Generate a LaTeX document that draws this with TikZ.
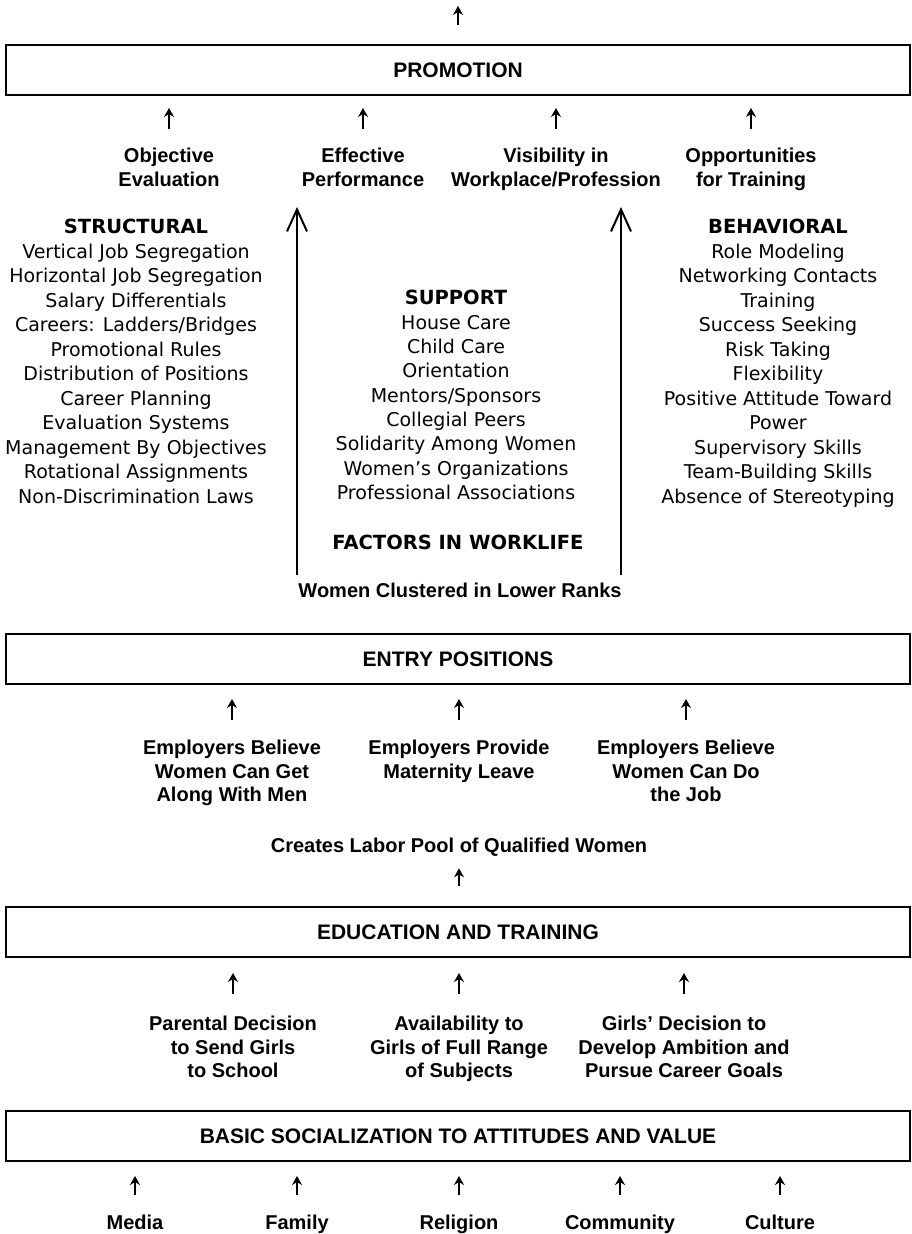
\documentclass[tikz,border=0pt]{standalone}
\usepackage{fontspec}
\setmainfont{DejaVu Sans}
\newfontfamily\labelfont{Liberation Sans}
\usetikzlibrary{calc,arrows.meta}

\tikzset{
    bar/.style={draw, line width=1pt, minimum width=452pt, minimum height=25pt, inner sep=0pt,
        font=\labelfont\bfseries\fontsize{10.5}{12}\selectfont},
    cause/.style={align=center, inner sep=0pt, font=\labelfont\bfseries\fontsize{10}{11.7}\selectfont},
    factor/.style={inner sep=0pt, anchor=base, font=\fontsize{9.5}{12}\selectfont},
    head/.style={inner sep=0pt, anchor=base, font=\bfseries\fontsize{9.75}{12}\selectfont},
    up/.style={-{Stealth[length=4.5pt,width=5pt,inset=1.5pt]}, line width=1.1pt},
    bigup/.style={-{Straight Barb[length=11pt,width=10pt]}, line width=1pt}
}

\begin{document}
\begin{tikzpicture}[x=0.5pt,y=-0.5pt]
            \useasboundingbox (0,0) rectangle (911,1234);

            \node (promo) at (458,70) [bar] {PROMOTION};
            \node (entry) at (458,659) [bar] {ENTRY POSITIONS};
            \node (edu) at (458,932) [bar] {EDUCATION AND TRAINING};
            \node (basic) at (458,1136) [bar] {BASIC SOCIALIZATION TO ATTITUDES AND VALUE};

            \coordinate (out) at (458,6);
            \draw [up, shorten <=9.5pt] (promo) -- (out);

            \node (obj) at (169,148) [cause, anchor=north] {Objective\\Evaluation};
            \node (perf) at (363,148) [cause, anchor=north] {Effective\\Performance};
            \node (vis) at (556,148) [cause, anchor=north] {Visibility in\\Workplace/Profession};
            \node (opp) at (751,148) [cause, anchor=north] {Opportunities\\for Training};

            \foreach \n in {obj, perf, vis, opp}
                {
                    \draw [up, shorten <=9.5pt, shorten >=6pt] (\n) -- (\n |- promo.south);
                }

            \node (struct) at (136,234) [head] {STRUCTURAL};
            \foreach \t [count=\i] in {Vertical Job Segregation, Horizontal Job Segregation,
                Salary Differentials, Careers: Ladders/Bridges, Promotional Rules,
                Distribution of Positions, Career Planning, Evaluation Systems,
                Management By Objectives, Rotational Assignments, Non-Discrimination Laws}
                {
                    \node (struct\i) at ($(struct.base) + (0,24.5*\i)$) [factor] {\t};
                }

            \node (supp) at (456,305) [head] {SUPPORT};
            \foreach \t [count=\i] in {House Care, Child Care, Orientation, Mentors/Sponsors,
                Collegial Peers, Solidarity Among Women, Women’s Organizations,
                Professional Associations}
                {
                    \node (supp\i) at ($(supp.base) + (0,24.3*\i)$) [factor] {\t};
                }

            \node (behav) at (778,234) [head] {BEHAVIORAL};
            \foreach \t [count=\i] in {Role Modeling, Networking Contacts, Training,
                Success Seeking, Risk Taking, Flexibility, Positive Attitude Toward, Power,
                Supervisory Skills, Team-Building Skills, Absence of Stereotyping}
                {
                    \node (behav\i) at ($(behav.base) + (0,24.5*\i)$) [factor] {\t};
                }

            \node (fact) at (458,549) [head] {FACTORS IN WORKLIFE};
            \node (clust) at (460,597) [cause, anchor=base] {Women Clustered in Lower Ranks};

            \coordinate (ltip) at (297,207);
            \coordinate (rtip) at (621,207);
            \draw [bigup, shorten <=3.5pt] (ltip |- clust.north) -- (ltip);
            \draw [bigup, shorten <=3.5pt] (rtip |- clust.north) -- (rtip);

            \node (mix) at (232,740) [cause, anchor=north] {Employers Believe\\Women Can Get\\Along With Men};
            \node (leave) at (459,740) [cause, anchor=north] {Employers Provide\\Maternity Leave};
            \node (able) at (686,740) [cause, anchor=north] {Employers Believe\\Women Can Do\\the Job};

            \foreach \n in {mix, leave, able}
                {
                    \draw [up, shorten <=10pt, shorten >=7pt] (\n) -- (\n |- entry.south);
                }

            \node (pool) at (459,852) [cause, anchor=base] {Creates Labor Pool of Qualified Women};
            \draw [up, shorten <=10pt, shorten >=6pt] (edu.north -| pool) -- (pool);

            \node (send) at (233,1016) [cause, anchor=north] {Parental Decision\\to Send Girls\\to School};
            \node (range) at (459,1016) [cause, anchor=north] {Availability to\\Girls of Full Range\\of Subjects};
            \node (goal) at (684,1016) [cause, anchor=north] {Girls’ Decision to\\Develop Ambition and\\Pursue Career Goals};

            \foreach \n in {send, range, goal}
                {
                    \draw [up, shorten <=11pt, shorten >=7.5pt] (\n) -- (\n |- edu.south);
                }

            \foreach \n/\x/\t in {media/135/Media, fam/297/Family, rel/459/Religion,
                comm/620/Community, cult/780/Culture}
                {
                    \node (\n) at (\x,1215) [cause, anchor=north] {\t};
                    \draw [up, shorten <=10pt, shorten >=7pt] (\n) -- (\n |- basic.south);
                }

        \end{tikzpicture}
\end{document}
